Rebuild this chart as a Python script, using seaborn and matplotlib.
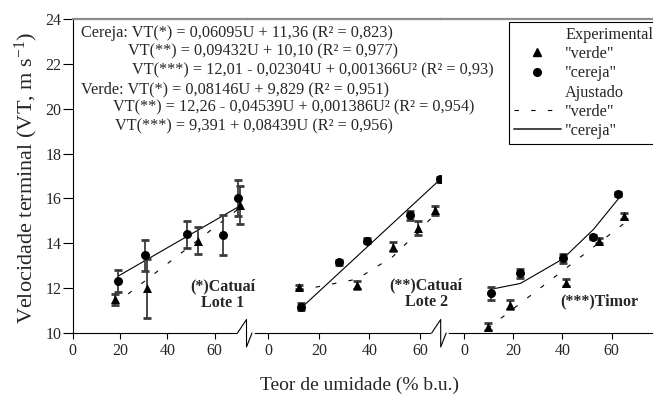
import numpy as np
import pandas as pd
import matplotlib
matplotlib.use("Agg")
import matplotlib.pyplot as plt
from matplotlib.lines import Line2D
import seaborn as sns

# ---- dados ----
# (*) Catuaí lote 1
p1_cer_x = [19.3, 30.4, 48.1, 63.5, 69.9]
p1_cer_y = [12.33, 13.46, 14.41, 14.37, 16.0]
p1_cer_e = [0.5, 0.7, 0.6, 0.9, 0.8]
p1_ver_x = [17.9, 31.3, 52.8, 70.6]
p1_ver_y = [11.5, 11.99, 14.12, 15.71]
p1_ver_e = [0.25, 1.3, 0.6, 0.85]
p1_fit_cer_x = [19.3, 69.9]
p1_fit_cer_y = [12.54, 15.62]
p1_fit_ver_x = [17.9, 70.6]
p1_fit_ver_y = [11.29, 15.58]

# (**) Catuaí lote 2
p2_cer_x = [12.8, 28.0, 39.2, 56.2, 68.0]
p2_cer_y = [11.17, 13.15, 14.12, 15.26, 16.85]
p2_cer_e = [0.15, 0.1, 0.1, 0.2, 0.1]
p2_ver_x = [12.3, 35.0, 49.2, 59.2, 65.9]
p2_ver_y = [12.04, 12.14, 13.85, 14.68, 15.48]
p2_ver_e = [0.1, 0.2, 0.2, 0.3, 0.2]
p2_fit_cer_x = [12.5, 68.3]
p2_fit_cer_y = [11.06, 16.88]
p2_fit_ver_x = [12.3, 35.0, 49.2, 59.2, 65.9]
p2_fit_ver_y = [11.9, 12.4, 13.4, 14.5, 15.3]

# (***) Timor
p3_cer_x = [11.0, 22.9, 40.1, 52.6, 62.7]
p3_cer_y = [11.77, 12.66, 13.33, 14.29, 16.2]
p3_cer_e = [0.3, 0.2, 0.2, 0.1, 0.1]
p3_ver_x = [9.6, 18.7, 41.5, 55.0, 65.0]
p3_ver_y = [10.28, 11.25, 12.25, 14.12, 15.22]
p3_ver_e = [0.15, 0.2, 0.15, 0.1, 0.15]
p3_fit_cer_x = [11.0, 22.9, 40.1, 52.6, 62.7]
p3_fit_cer_y = [11.95, 12.21, 13.3, 14.62, 15.98]
p3_fit_ver_x = [9.6, 65.0]
p3_fit_ver_y = [10.2, 14.88]

equations = [
    "Cereja: VT(*) = 0,06095U + 11,36 (R² = 0,823)",
    "VT(**) = 0,09432U + 10,10 (R² = 0,977)",
    "VT(***) = 12,01 - 0,02304U + 0,001366U² (R² = 0,93)",
    "Verde: VT(*) = 0,08146U + 9,829 (R² = 0,951)",
    "VT(**) = 12,26 - 0,04539U + 0,001386U² (R² = 0,954)",
    "VT(***) = 9,391 + 0,08439U (R² = 0,956)",
]
eq_x_px = [81, 128, 132, 81, 113, 115]

panel_labels = ["(*)Catuaí\nLote 1", "(**)Catuaí\nLote 2", "(***)Timor"]

# ---- estilo ----
sns.set_theme(style="ticks")
plt.rcParams['font.family'] = ['Liberation Serif', 'DejaVu Serif']
plt.rcParams['mathtext.fontset'] = 'custom'
plt.rcParams['mathtext.rm'] = 'Liberation Serif'
plt.rcParams['mathtext.it'] = 'Liberation Serif:italic'

W, H = 653, 401
fig = plt.figure(figsize=(W / 100, H / 100), dpi=100)

def add_ax(x0, x1, y0=19, y1=333):
    return fig.add_axes([x0 / W, 1 - y1 / H, (x1 - x0) / W, (y1 - y0) / H])

# limites de cada painel (px) e xlim
ax1 = add_ax(72.5, 246.5)
ax2 = add_ax(246.5, 440.7)
ax3 = add_ax(440.7, 653)
ax1.set_xlim(0, 73.4)
ax2.set_xlim(-8.6, 68.2)
ax3.set_xlim(-9.5, 76.8)

panels = [
    (ax1, p1_cer_x, p1_cer_y, p1_cer_e, p1_ver_x, p1_ver_y, p1_ver_e,
     p1_fit_cer_x, p1_fit_cer_y, p1_fit_ver_x, p1_fit_ver_y),
    (ax2, p2_cer_x, p2_cer_y, p2_cer_e, p2_ver_x, p2_ver_y, p2_ver_e,
     p2_fit_cer_x, p2_fit_cer_y, p2_fit_ver_x, p2_fit_ver_y),
    (ax3, p3_cer_x, p3_cer_y, p3_cer_e, p3_ver_x, p3_ver_y, p3_ver_e,
     p3_fit_cer_x, p3_fit_cer_y, p3_fit_ver_x, p3_fit_ver_y),
]

dash = (0, (4, 11))
ebar_kw = dict(fmt='none', ecolor='#3c3c3c', elinewidth=1.3, capsize=3, capthick=2, zorder=2)

for (ax, cx, cy, ce, vx, vy, ve, fcx, fcy, fvx, fvy) in panels:
    ax.errorbar(cx, cy, yerr=ce, **ebar_kw)
    ax.errorbar(vx, vy, yerr=ve, **ebar_kw)
    sns.lineplot(x=fcx, y=fcy, ax=ax, color='black', lw=0.8, sort=False, estimator=None, zorder=1)
    sns.lineplot(x=fvx, y=fvy, ax=ax, color='black', lw=0.8, linestyle=dash, sort=False,
                 estimator=None, zorder=1)
    sns.scatterplot(x=cx, y=cy, ax=ax, marker='o', s=42, color='black', linewidth=0, zorder=3)
    sns.scatterplot(x=vx, y=vy, ax=ax, marker='^', s=42, color='black', linewidth=0, zorder=3)

    ax.set_ylim(10, 24)
    ax.set_xticks([0, 20, 40, 60])
    ax.set_xlabel("")
    ax.set_ylabel("")
    ax.set_facecolor('none')
    ax.tick_params(axis='x', direction='out', length=4, width=0.8, pad=3, labelsize=11.5, color='black')
    ax.spines['top'].set_color('#8c8c8c')
    ax.spines['top'].set_linewidth(1.6)
    ax.spines['bottom'].set_color('black')
    ax.spines['bottom'].set_linewidth(0.8)
    ax.spines['right'].set_visible(False)

ax1.set_yticks(np.arange(10, 25, 2))
ax1.tick_params(axis='y', direction='out', length=7, width=0.8, pad=1, labelsize=11.5, color='black')
ax1.spines['left'].set_color('black')
ax1.spines['left'].set_linewidth(0.8)
for ax in (ax2, ax3):
    ax.spines['left'].set_visible(False)
    ax.tick_params(axis='y', left=False, labelleft=False)

# rótulos dos painéis
ax1.text(63.4, 11.7, panel_labels[0], ha='center', va='center', fontsize=11.5,
         fontweight='bold', linespacing=1.1, zorder=5)
ax2.text(62.5, 11.75, panel_labels[1], ha='center', va='center', fontsize=11.5,
         fontweight='bold', linespacing=1.1, zorder=5)
ax3.text(54.8, 11.43, panel_labels[2], ha='center', va='center', fontsize=11.5,
         fontweight='bold', zorder=5)

# equações
for txt, xp, i in zip(equations, eq_x_px, range(len(equations))):
    fig.text(xp / W, 1 - (33 + 18.7 * i) / H, txt, ha='left', va='center', fontsize=11.7)

# quebras do eixo x
for xb in (246.5, 440.7):
    fig.add_artist(Line2D([(xb - 9) / W, (xb + 6) / W], [1 - 333 / H] * 2, color='white',
                          lw=2, transform=fig.transFigure, zorder=10))
    zx = [xb - 9, xb, xb, xb + 5.5]
    zy = [333, 319.5, 347, 333]
    fig.add_artist(Line2D([v / W for v in zx], [1 - v / H for v in zy], color='black',
                          lw=0.8, transform=fig.transFigure, zorder=11))

# títulos dos eixos
fig.text(26 / W, 1 - 178 / H, "Velocidade terminal (VT, m s$^{-1}$)", rotation=90,
         ha='center', va='center', fontsize=16)
fig.text(360 / W, 1 - 385 / H, "Teor de umidade (% b.u.)", ha='center', va='center', fontsize=14)

# legenda
blank = Line2D([], [], linestyle='none', marker=None)
handles = [
    blank,
    Line2D([], [], linestyle='none', marker='^', color='black', markersize=5.5),
    Line2D([], [], linestyle='none', marker='o', color='black', markersize=5.5),
    blank,
    Line2D([], [], color='black', lw=0.8, linestyle=dash),
    Line2D([], [], color='#444444', lw=1.4),
]
labels = ["Experimental", '"verde"', '"cereja"', "Ajustado", '"verde"', '"cereja"']
leg = fig.legend(handles, labels, loc='upper left', bbox_to_anchor=(509 / W, 1 - 22 / H),
                 bbox_transform=fig.transFigure, fontsize=11.7, frameon=True, fancybox=False,
                 edgecolor='black', framealpha=1, handlelength=2.9, handletextpad=0.25,
                 borderaxespad=0, borderpad=0.3, labelspacing=0.2, numpoints=1)
leg.get_frame().set_linewidth(0.8)

fig.savefig("out.png", dpi=100)
